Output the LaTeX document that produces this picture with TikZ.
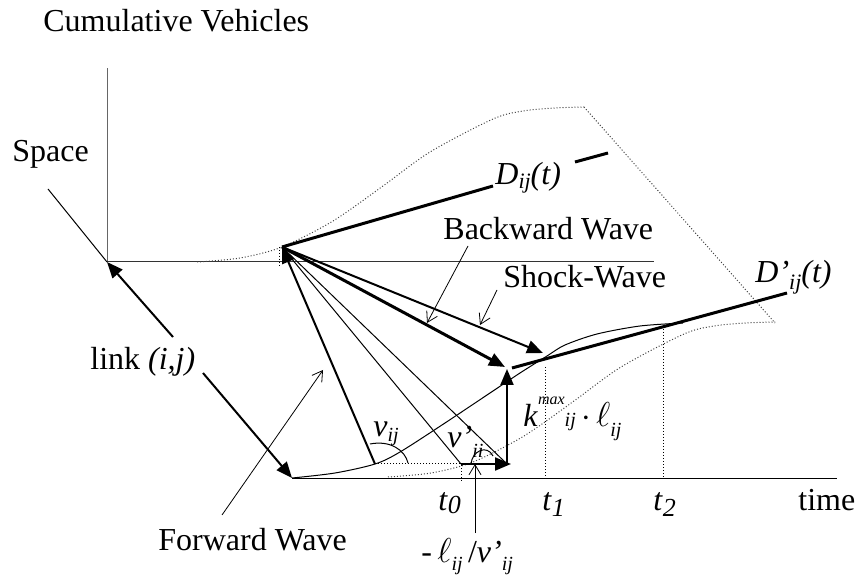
\documentclass[tikz,border=0pt]{standalone}
\usepackage{fontspec}
\setmainfont{Liberation Serif}
\usetikzlibrary{arrows.meta}
% small raised or lowered italic index: shift, size, text
\newcommand{\sbx}[3]{\raisebox{#1}{\fontsize{#2}{#2}\selectfont\textit{#3}}}
\tikzset{
    lbl/.style={font=\fontsize{16}{19}\selectfont, inner sep=0pt, anchor=base west},
    axis/.style={line width=0.5pt},
    arr/.style={line width=1pt, -{Triangle[length=8pt,width=6.5pt]}},
    thickarr/.style={line width=1.5pt, -{Triangle[length=8pt,width=6.5pt]}},
    pointer/.style={line width=0.4pt, -{Straight Barb[length=5pt,width=6pt]}},
    fanline/.style={line width=0.5pt},
    dline/.style={line width=1.5pt},
    cumcurve/.style={densely dotted, line width=0.5pt, black!75},
    guide/.style={densely dotted, line width=0.5pt}
}
\begin{document}
\begin{tikzpicture}[x=0.5pt,y=-0.5pt]
\useasboundingbox (0,0) rectangle (860,581);
% points of the two diagrams
\coordinate (O1) at (107,262);
\coordinate (O2) at (292,478);
\coordinate (A) at (282,247);
\coordinate (B) at (375,464);
\coordinate (C) at (461,464);
\coordinate (E) at (507,464);
\coordinate (Et) at (511,464);
\coordinate (F) at (507,369);
\coordinate (G) at (505,367);
\coordinate (H) at (543,353);
\coordinate (Dg1) at (493,186);
\coordinate (Dg2) at (575,162);
\coordinate (Dend) at (608,153);
\coordinate (P) at (512,368);
\coordinate (Pend) at (787,293);

% axes
\draw[axis, black!60] (O1) -- (107,68);
\draw[axis, black!80] (O1) -- (654,262);
\draw[axis] (O1) -- (48,189);
\draw[axis] (O2) -- (837,478);

% cumulative curves
\foreach \dx/\dy in {0/0,191/215}
  \draw[cumcurve, shift={(\dx,\dy)}] plot[smooth] coordinates {(197,262) (240,258) (282,247) (333,221) (383,186) (430,152) (493,119) (523,111) (555,108) (584,107)};
\draw[cumcurve] (584,107) -- (775,323);
\draw[fanline] plot[smooth] coordinates {(292,478) (335,473) (375,464) (400,452) (445,423) (490,393) (520,373) (547,356) (565,345) (597,334) (640,326) (683,323)};

% guides
\draw[guide] (279,247) -- (279,268);
\draw[guide] (B) -- (C) -- (461,481);
\draw[guide] (545,367) -- (545,478);
\draw[guide] (663,329) -- (663,478);

% waves
\draw[arr] (B) -- (A);
\draw[fanline] (A) -- (C);
\draw[fanline] (A) -- (E);
\draw[thickarr] (A) -- (G);
\draw[arr] (A) -- (H);
\draw[arr] (E) -- (F);
\draw[arr] (C) -- (Et);
\draw[dline] (A) -- (Dg1);
\draw[dline] (Dg2) -- (Dend);
\draw[dline] (P) -- (Pend);
\draw[fanline] (370,444) .. controls (390,440) and (405,450) .. (408,463);
\draw[fanline] (471,464) .. controls (472,451) and (487,444) .. (493,456);

% link arrows and pointers
\draw[arr] (173,337) -- (O1);
\draw[arr] (203,373) -- (O2);
\draw[pointer] (468,246) -- (427,323);
\draw[pointer] (497,290) -- (480,325);
\draw[pointer] (222,515) -- (323,370);
\draw[pointer] (475,533) -- (475,464);

% labels
\node[lbl] (cumveh) at (43,32) {Cumulative Vehicles};
\node[lbl] (space) at (12,162) {Space};
\node[lbl] (link) at (90,370) {link \textit{(i,j)}};
\node[lbl] (fwlab) at (158,550) {Forward Wave};
\node[lbl] (bwlab) at (443,240) {Backward Wave};
\node[lbl] (swlab) at (503,288) {Shock-Wave};
\node[lbl] (dij) at (495,185) {\textit{D}\sbx{-2pt}{11}{ij}\textit{(t)}};
\node[lbl] (dpij) at (755,283) {\textit{D’}\sbx{-3.5pt}{11}{ij}\textit{(t)}};
\node[lbl] (tzero) at (438,510) {\textit{t}\sbx{-1.5pt}{13}{0}};
\node[lbl] (tone) at (542,510) {\textit{t}\sbx{-3pt}{13}{1}};
\node[lbl] (ttwo) at (653,510) {\textit{t}\sbx{-3pt}{13}{2}};
\node[lbl] (time) at (798,510) {time};
\node[lbl] (vij) at (373,437) {\textit{ν}\sbx{-2.5pt}{10}{ij}};
\node[lbl] (vpii) at (447,448) {\textit{ν’}\sbx{-5pt}{10}{ii}};
\node[lbl] (kmax) at (523,427) {\textit{k}\sbx{11pt}{8}{max}\sbx{0pt}{10}{ij}\,$\cdot$\,$\ell$\sbx{-5pt}{10}{ij}};
\node[lbl] (lenv) at (421,562) {-\,$\ell$\sbx{-4pt}{10}{ij}\,/\textit{ν’}\sbx{-4pt}{10}{ij}};
\end{tikzpicture}
\end{document}
